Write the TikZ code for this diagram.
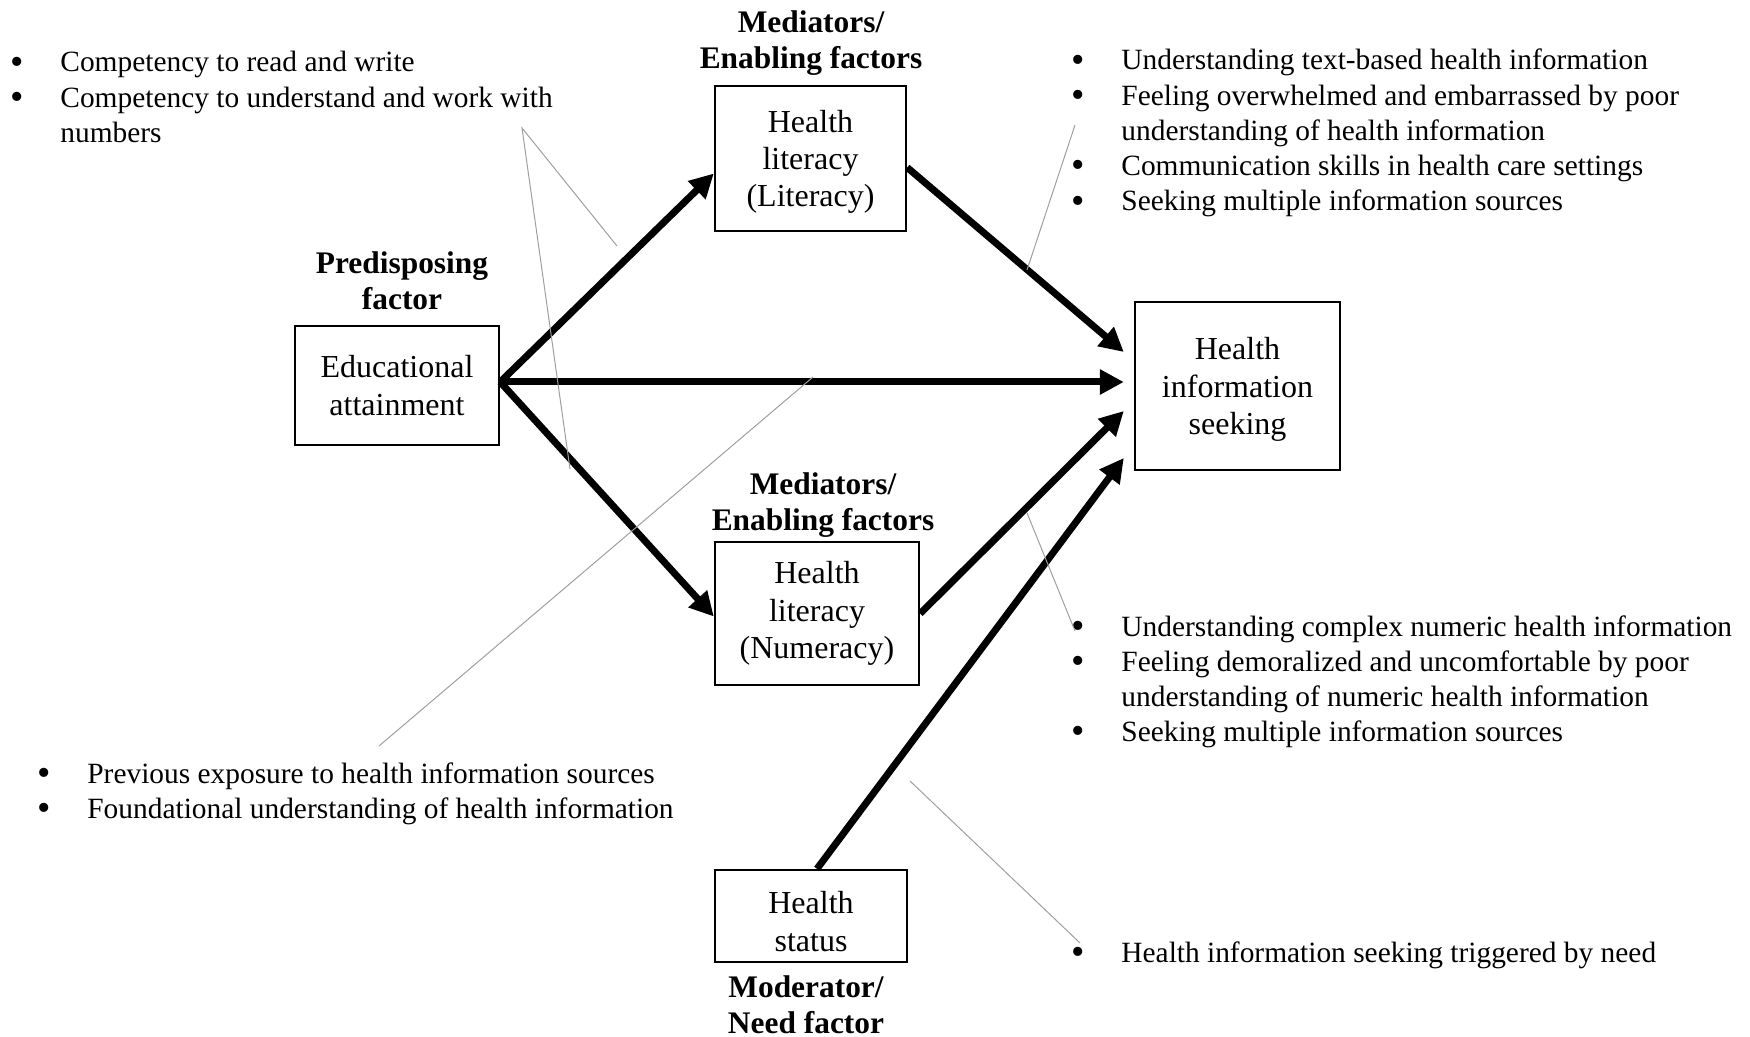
\documentclass[tikz,border=0pt]{standalone}
\usepackage{fontspec}
\setmainfont{Liberation Serif}
\usetikzlibrary{arrows.meta}

\newcommand\boxfont{\fontsize{16}{18.7}\selectfont}
\newcommand\headfont{\fontsize{15.7}{18}\selectfont\bfseries}
\newcommand\notefont{\fontsize{14.7}{17.6}\selectfont}
\newcommand\dotmark{\raisebox{-0.08em}{\scalebox{1.3}{\textbullet}}}
\newcommand\bulletlist[1]{\begin{tabular}[t]{@{}p{25pt}@{}l@{}}#1\end{tabular}}

\tikzset{
  factorbox/.style={draw, line width=1.2pt, align=center, inner sep=0pt, font=\boxfont},
  lowered/.style={text depth=0pt},
  heading/.style={font=\headfont, align=center, inner sep=0pt},
  flow/.style={line width=3.5pt, -{Triangle[length=12pt,width=12pt]}},
  callout/.style={draw=gray!75, line width=0.5pt},
  notes/.style={anchor=base west, inner sep=0pt, font=\notefont},
}

\begin{document}
\begin{tikzpicture}[x=0.5pt,y=-0.5pt]
  \useasboundingbox (0,0) rectangle (1750,1037);

  % factor boxes
  \node[factorbox, lowered, minimum width=95.5pt, minimum height=72.5pt] (lit) at (810.5,158.5) {Health\\literacy\\(Literacy)};
  \node[factorbox, lowered, minimum width=102pt, minimum height=59.5pt] (edu) at (397,385.5) {Educational\\attainment};
  \node[factorbox, lowered, minimum width=102.5pt, minimum height=84pt] (his) at (1237.5,386) {Health\\information\\seeking};
  \node[factorbox, minimum width=102pt, minimum height=71.5pt] (num) at (817,613.5) {Health\\literacy\\(Numeracy)};
  \node[factorbox, text height=35pt, text depth=0pt, minimum width=96pt, minimum height=46pt] (stat) at (811,916) {Health\\status};

  % headings
  \node[heading] (hlit) at (811,43.5) {Mediators/\\Enabling factors};
  \node[heading] (hedu) at (402,281) {Predisposing\\factor};
  \node[heading] (hnum) at (823,505.5) {Mediators/\\Enabling factors};
  \node[heading] (hstat) at (806,1005) {Moderator/\\Need factor};

  % paths
  \draw[flow] ([shift={(0,-3.5)}]edu.east) -- ([shift={(0,15)}]lit.west);
  \draw[flow] ([shift={(0,-3.5)}]edu.east) -- ([shift={(-10,-4)}]his.west);
  \draw[flow] ([shift={(0,-3.5)}]edu.east) -- ([shift={(0,3)}]num.west);
  \draw[flow] ([shift={(0,9)}]lit.east) -- ([shift={(-10,-34)}]his.west);
  \draw[flow] (num.east) -- ([shift={(-10,25)}]his.west);
  \draw[flow] ([shift={(6,0)}]stat.north) -- ([shift={(-10,72)}]his.west);

  % notes
  \node[notes] (nedu) at (10,72) {\bulletlist{%
    \dotmark & Competency to read and write\\
    \dotmark & Competency to understand and work with\\
     & numbers}};
  \node[notes] (nlit) at (1071,70) {\bulletlist{%
    \dotmark & Understanding text-based health information\\
    \dotmark & Feeling overwhelmed and embarrassed by poor\\
     & understanding of health information\\
    \dotmark & Communication skills in health care settings\\
    \dotmark & Seeking multiple information sources}};
  \node[notes] (nnum) at (1071,636) {\bulletlist{%
    \dotmark & Understanding complex numeric health information\\
    \dotmark & Feeling demoralized and uncomfortable by poor\\
     & understanding of numeric health information\\
    \dotmark & Seeking multiple information sources}};
  \node[notes] (ndirect) at (37,783) {\bulletlist{%
    \dotmark & Previous exposure to health information sources\\
    \dotmark & Foundational understanding of health information}};
  \node[notes] (nstat) at (1071,962) {\bulletlist{%
    \dotmark & Health information seeking triggered by need}};

  % callout lines
  \coordinate (c1) at (522,128);
  \coordinate (c1a) at (617,246);
  \coordinate (c1b) at (570,469);
  \coordinate (c2) at (1075,125);
  \coordinate (c2a) at (1027,270);
  \coordinate (c3) at (379,746);
  \coordinate (c3a) at (813,377);
  \coordinate (c4) at (1075,631);
  \coordinate (c4a) at (1027,513);
  \coordinate (c5) at (1080,943);
  \coordinate (c5a) at (910,781);
  \draw[callout] (c1a) -- (c1) -- (c1b);
  \draw[callout] (c2) -- (c2a);
  \draw[callout] (c3) -- (c3a);
  \draw[callout] (c4) -- (c4a);
  \draw[callout] (c5) -- (c5a);
\end{tikzpicture}
\end{document}
